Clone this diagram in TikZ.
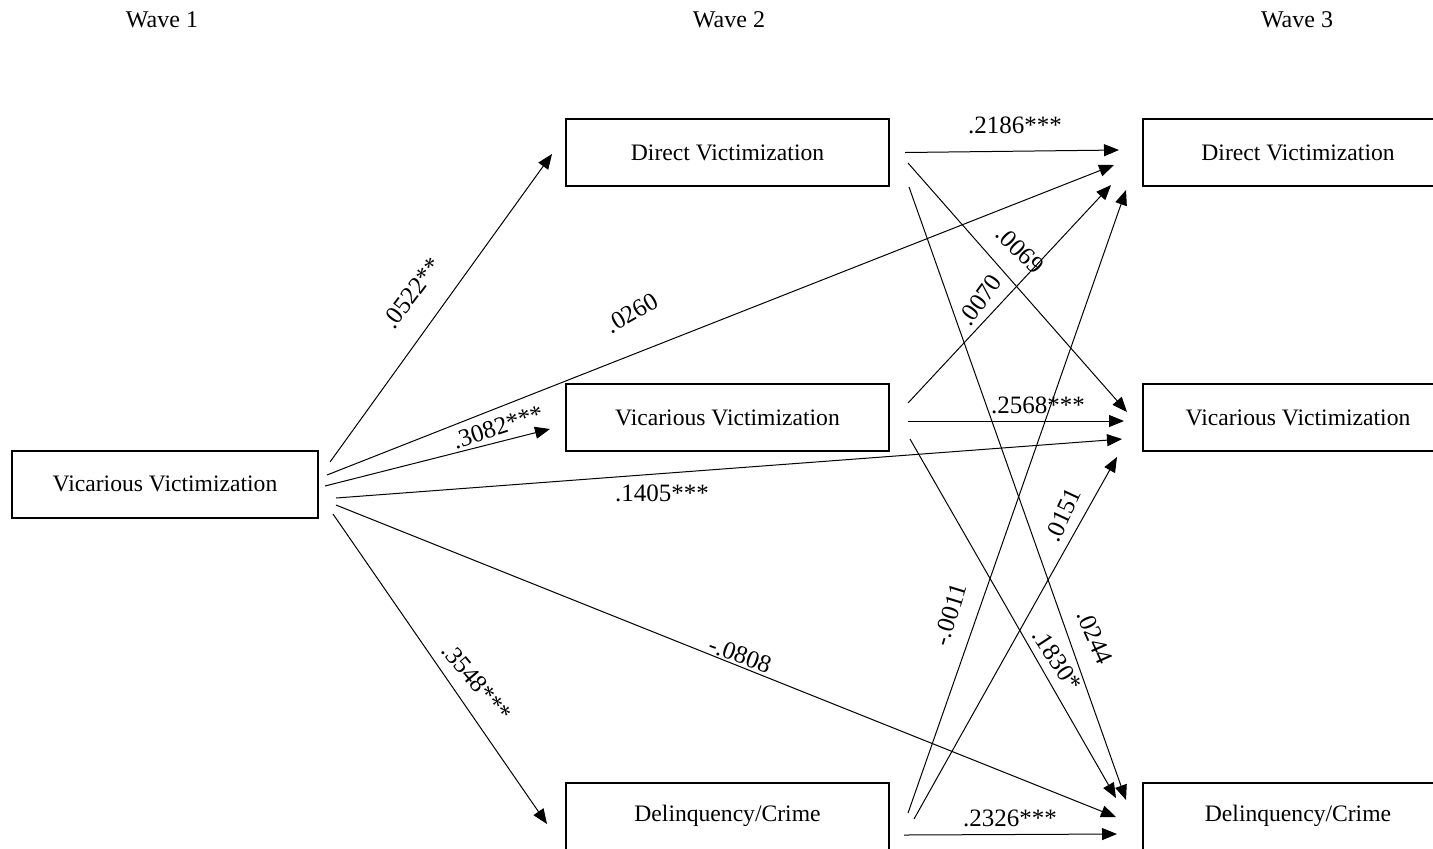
\documentclass[tikz,border=0pt]{standalone}
\usepackage{fontspec}
\setmainfont{Liberation Serif}
\usetikzlibrary{arrows.meta, calc}

\begin{document}
\begin{tikzpicture}[x=0.5pt, y=-0.5pt, >={Triangle[length=7.5pt,width=6pt]},
    box/.style={draw, line width=1pt, minimum width=161.5pt, minimum height=33.5pt,
      inner sep=0pt, font=\fontsize{11.8}{13}\selectfont},
    wave/.style={font=\fontsize{12}{14}\selectfont},
    lab/.style={font=\fontsize{12.5}{15}\selectfont, inner sep=0pt},
    arr/.style={->, line width=0.5pt}]
  \useasboundingbox (0,0) rectangle (1433,848);

  % wave headings
  \node[wave] (w1) at (162,20) {Wave 1};
  \node[wave] (w2) at (729,20) {Wave 2};
  \node[wave] (w3) at (1297,20) {Wave 3};

  % boxes
  \node[box, minimum width=153pt] (L) at (165,484) {Vicarious Victimization};
  \node[box] (d2) at (727.5,152.5) {Direct Victimization};
  \node[box] (v2) at (727.5,417.5) {Vicarious Victimization};
  \node[box] (c2) at (727.5,816) {Delinquency/Crime};
  \node[box, minimum width=155pt] (d3) at (1298,152.5) {Direct Victimization};
  \node[box, minimum width=155pt] (v3) at (1298,417.5) {Vicarious Victimization};
  \node[box, minimum width=155pt] (c3) at (1298,816) {Delinquency/Crime};

  % wave 1 -> wave 2 and 3
  \draw[arr] ($(L.east)+(11,-22)$) -- ($(d2.west)+(-13,1.5)$);
  \draw[arr] ($(L.east)+(8,-9)$) -- ($(d3.west)+(-28,12.5)$);
  \draw[arr] ($(L.east)+(6,2)$) -- ($(v2.west)+(-15,11.5)$);
  \draw[arr] ($(L.east)+(17,14)$) -- ($(v3.west)+(-20,21.5)$);
  \draw[arr] ($(L.east)+(17,21)$) -- ($(c3.west)+(-26,1)$);
  \draw[arr] ($(L.east)+(14,30)$) -- ($(c2.west)+(-18,8)$);

  % wave 2 -> wave 3
  \draw[arr] ($(d2.east)+(15,0)$) -- ($(d3.west)+(-23,-2.5)$);
  \draw[arr] ($(d2.east)+(18,10.5)$) -- ($(v3.west)+(-15,-5.5)$);
  \draw[arr] ($(d2.east)+(19,34.5)$) -- ($(c3.west)+(-16,-16)$);
  \draw[arr] ($(v2.east)+(18,-14.5)$) -- ($(d3.west)+(-31,32.5)$);
  \draw[arr] ($(v2.east)+(18,3.5)$) -- ($(v3.west)+(-18,3.5)$);
  \draw[arr] ($(v2.east)+(20,21.5)$) -- ($(c3.west)+(-26,-18)$);
  \draw[arr] ($(c2.east)+(18,-3)$) -- ($(d3.west)+(-16,37.5)$);
  \draw[arr] ($(c2.east)+(24,3)$) -- ($(v3.west)+(-25,39.5)$);
  \draw[arr] ($(c2.east)+(14,19)$) -- ($(c3.west)+(-25,18)$);

  % coefficients
  \node[lab, rotate=53] (l1) at (412,293) {.0522**};
  \node[lab, rotate=30] (l2) at (632,313) {.0260};
  \node[lab, rotate=18] (l3) at (498,427) {.3082***};
  \node[lab] (l4) at (662,493) {.1405***};
  \node[lab, rotate=-20] (l5) at (740,655) {-.0808};
  \node[lab, rotate=-50] (l6) at (477,682) {.3548***};
  \node[lab] (l7) at (1015,125) {.2186***};
  \node[lab, rotate=-45] (l8) at (1020,250) {.0069};
  \node[lab, rotate=-66] (l9) at (1095,637) {.0244};
  \node[lab, rotate=54] (l10) at (980,300) {.0070};
  \node[lab] (l11) at (1038,405) {.2568***};
  \node[lab, rotate=-57] (l12) at (1057,660) {.1830*};
  \node[lab, rotate=73] (l13) at (950,615) {-.0011};
  \node[lab, rotate=65] (l14) at (1063,515) {.0151};
  \node[lab] (l15) at (1010,818) {.2326***};
\end{tikzpicture}
\end{document}
